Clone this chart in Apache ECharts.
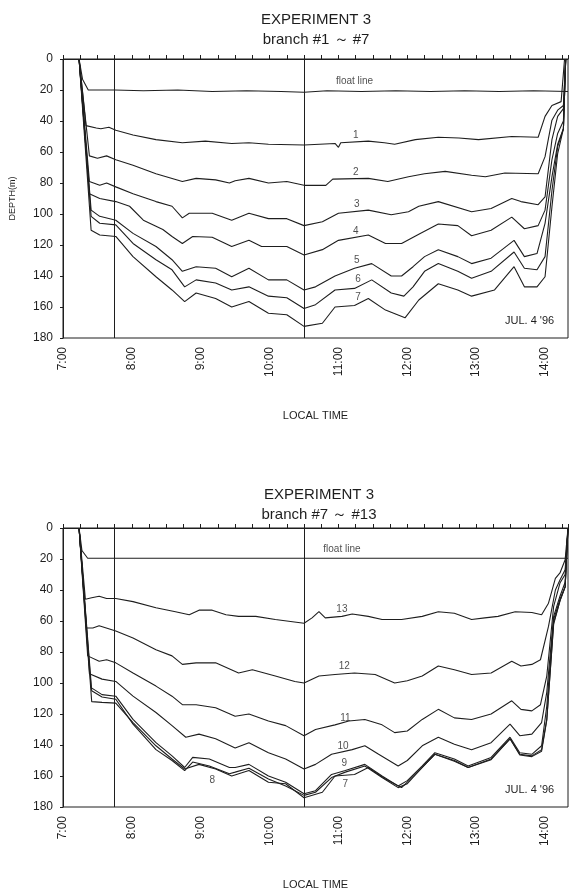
<!DOCTYPE html>
<html>
<head>
<meta charset="utf-8">
<script src="https://cdn.jsdelivr.net/npm/echarts@6/dist/echarts.min.js"></script>
<style>
  html, body { margin: 0; padding: 0; background: #fff; }
  #chart { width: 570px; height: 891px; }
</style>
</head>
<body>
<div id="chart"></div>
<script>
// time = minutes after 7:00, depth in metres
var hourLabels = ['7:00', '8:00', '9:00', '10:00', '11:00', '12:00', '13:00', '14:00'];
var refTimes = [45, 210];   // the two vertical lines (7:45, 10:30)

// ---- EXPERIMENT 3, branch #1 ~ #7 ----
var floatTop = [[14,0],[17,13],[22,20],[45,20],[70,20.5],[100,20],[130,21],[160,20.5],[190,21],[210,21.5],[230,20.5],[260,21],[290,20.5],[320,21],[350,20.5],[380,21],[410,20.5],[440,21]];
var br1 = [[14,0],[20,43],[29,44.5],[33,45],[40,44],[46,46],[61,49],[81,52],[104,54],[124,53],[147,54.5],[162,54],[179,55],[210,55.5],[237,54.5],[240,57],[242,54],[266,53],[280,54],[289,55],[307,52],[327,50.5],[345,51],[362,52],[391,50],[414,50.5],[420,37],[426,30],[434,27.5],[437,0]];
var br2 = [[14,0],[23,62.5],[30,64],[38,62.5],[46,65],[61,68.5],[81,74],[104,79],[116,77],[133,78],[145,80],[150,78.5],[162,77],[179,80],[195,79],[210,81.5],[229,81.5],[235,77.5],[266,77],[283,79],[301,76],[315,74],[333,72.5],[356,75],[368,76],[385,73.5],[414,74],[420,63],[426,39.5],[431,33],[436,30],[438,0]];
var br3 = [[14,0],[23,79],[32,81.5],[38,80],[46,82.5],[61,87],[81,92],[95,95],[104,102.5],[110,99.5],[130,99.5],[147,104],[162,99.5],[179,103],[195,103],[210,107.5],[226,105],[240,99.5],[266,97.5],[286,100.5],[301,98.5],[310,95],[327,92],[356,98.5],[373,96.5],[391,90],[399,92],[414,94],[420,89],[426,52],[431,37],[436,32],[438,0]];
var br4 = [[14,0],[23,87],[32,90],[46,92],[58,95],[70,104],[87,110],[95,114.5],[104,119],[113,114.5],[130,115],[147,121],[162,117],[173,121],[195,121],[210,126.5],[226,123],[240,117],[266,113.5],[281,119],[295,119],[310,113],[327,106.5],[344,107.5],[356,114],[373,110.5],[391,102],[402,109.5],[414,107.5],[420,97.5],[426,65],[431,48],[436,40],[438,0]];
var br5 = [[14,0],[24.5,97.5],[32,101.5],[46,104],[61,112.5],[81,121],[95,129.5],[104,137],[116,134],[133,135],[147,140.5],[162,135],[179,142.5],[195,142.5],[210,149],[220,147],[237,140],[254,135],[269,132],[286,140],[295,140],[305,134],[315,127.5],[327,123],[344,127.5],[356,132],[373,128.5],[393,117],[402,127.5],[413,125.5],[420,106],[426,76],[431,55],[436,45],[438,0]];
var br6 = [[14,0],[24.5,101.5],[32,106],[46,107],[61,119],[81,129.5],[95,136],[106,147],[116,142.5],[133,144.5],[147,149],[162,147],[179,153],[195,154],[210,161],[220,158.5],[237,149],[254,148],[269,142.5],[286,151],[297,153],[305,147],[315,137],[327,132],[344,137],[356,141.5],[373,137],[393,124.5],[402,135],[413,136],[420,127.5],[426,85],[431,56.5],[436,45],[438,0]];
var br7a = [[14,0],[24.5,110.5],[32,113.5],[46,114.5],[61,127.5],[81,140.5],[95,149],[106,156.5],[116,151],[133,154.5],[147,160],[162,156.5],[179,164],[195,165],[210,172.5],[226,170.5],[237,160],[254,159],[266,154.5],[281,162],[298,167],[310,155.5],[327,145],[344,149],[356,153],[376,149],[393,134],[402,147],[413,147],[420,140.5],[426,95.5],[431,61],[436,45],[438,0]];

// ---- EXPERIMENT 3, branch #7 ~ #13 ----
var floatBot = [[14,0],[16.5,14.5],[21.5,19.5],[60,19.5],[120,19.5],[180,19.5],[240,19.5],[300,19.5],[360,19.5],[440,19.5]];
var br13 = [[14,0],[19.5,46],[25,45],[31.5,44],[38,45.5],[46,45.5],[61,47.5],[81,51.5],[98,54],[110,56],[118.5,53],[130,53],[142,56],[153,57],[168,57],[185,59],[210,61.5],[217,58],[223,54],[228.5,58],[243,57],[252,55.5],[266,57],[278,59],[295,59],[313,57],[327,54],[341,55],[356,59],[367.5,58],[379,57],[394,54],[408.5,54.5],[417,56],[423,48.5],[429,32.5],[433,29],[437.5,20.5],[440,0]];
var br12 = [[14,0],[20.5,64.5],[26,64.5],[31.5,63],[46,66.5],[61,71],[81,78.5],[95,82.5],[104,88],[116,87],[133,87],[153,93.5],[165,91.5],[185,95.5],[202,99],[210,100],[223,95.5],[237,94.5],[254,93.5],[272,94.5],[289,100],[300,98.5],[313,95.5],[327,89],[341,91.5],[356,94.5],[373,93.5],[391,86],[399,89],[408.5,88],[416,85],[423,63.5],[429,40],[433,33.5],[437.5,27],[440,0]];
var br11 = [[14,0],[21.5,82.5],[31.5,86],[38,85],[46,87],[61,93.5],[81,102],[95,108.5],[104,114],[116,114],[133,116],[150,121.5],[162,120],[179,124.5],[194,127.5],[210,134],[220,130],[237,127],[249,124.5],[263,123.5],[278,127],[289,132],[300,131],[313,123.5],[327,117],[341,122.5],[356,123.5],[373,120],[391,111.5],[399,117],[408.5,118],[416,114],[421.5,95.5],[427.5,50.5],[433,35.5],[437.5,30],[440,0]];
var br10 = [[14,0],[23,94],[34,97.5],[46,99],[61,108.5],[81,119],[95,127.5],[107,135],[118.5,133],[133,136],[150,142],[162,138.5],[179,145],[194,149],[210,155.5],[220,152.5],[234,146],[252,143],[263,140.5],[275,146],[292,153.5],[300,150],[313,140.5],[327,135],[341,139.5],[356,143],[373,138.5],[389.5,126.5],[398,134],[408.5,133],[417,125.5],[421.5,106],[427.5,57],[433,44],[437.5,35],[440,0]];
var br9 = [[14,0],[24.5,103],[34,107.5],[46,108.5],[61,123.5],[81,138.5],[95,147],[106,154.5],[113,148],[127.5,149],[145,154.5],[150,154.5],[162,152.5],[179,160],[194,164],[210,171.5],[220,169.5],[234,159],[246,156.5],[263,152.5],[278,160],[292,166.5],[300,163],[313,153.5],[324,145],[341,149],[353,153.5],[373,148],[389.5,135],[398,145],[408.5,146],[417,140.5],[421.5,115],[427.5,59],[433,46],[437.5,38],[440,0]];
var br8 = [[14,0],[25,105],[34,109],[46,110.5],[61,126.5],[81,143],[95,150],[106,156.5],[113,151],[127.5,153.5],[145,158.5],[150,157.5],[162,155],[179,162],[194,166.5],[210,172.5],[220,170.5],[234,161],[246,157.5],[263,153.5],[278,161],[292,167.5],[300,165],[313,154.5],[324,146],[341,150],[353,154.5],[373,149],[389.5,136],[398,146],[408.5,147],[417,143],[421.5,123.5],[427.5,61],[433,47],[437.5,38],[440,0]];
var br7b = [[14,0],[25,112],[34,112.5],[46,113],[61,125.5],[81,140.5],[95,149],[106,155.5],[118.5,152.5],[133,155.5],[147,160],[162,156.5],[179,164],[194,165],[210,174],[226,170.5],[237,160],[254,159],[266,154.5],[281,162],[295,167.5],[300,164],[313,154.5],[324,146],[341,150.5],[353,154.5],[373,149.5],[389.5,136],[398,146.5],[408.5,147.5],[417,144],[421.5,124],[427.5,62],[433,47],[437.5,38],[440,0]];

var topSeries = [floatTop, br1, br2, br3, br4, br5, br6, br7a];
var botSeries = [floatBot, br13, br12, br11, br10, br9, br8, br7b];

// line labels: [text, minute, depth]
var topLabels = [['float line',254,14.5],['1',255,49],['2',255,73],['3',256,94],['4',255,111],['5',256,130],['6',257,142],['7',257,154]];
var botLabels = [['float line',243,13.5],['13',243,52.5],['12',245,89],['11',246,123],['10',244,141],['9',245,152],['7',246,165],['8',130,163]];

var ink = '#1e1e1e';
var font = 'Liberation Sans, Arial, sans-serif';

function xAxisOf(gi) {
  return {
    gridIndex: gi, type: 'value', min: 0, max: 440, interval: 15,
    name: 'LOCAL TIME', nameLocation: 'middle', nameGap: 72,
    nameTextStyle: { color: ink, fontSize: 11, fontFamily: font },
    axisLine: { lineStyle: { color: ink, width: 1 } },
    axisTick: { inside: true, length: 4, lineStyle: { color: ink } },
    splitLine: { show: false },
    axisLabel: {
      rotate: 90, margin: 9, fontSize: 12, color: ink, fontFamily: font,
      formatter: function (v) { return v % 60 === 0 ? hourLabels[v / 60] : ''; }
    }
  };
}
function yAxisOf(gi, name) {
  return {
    gridIndex: gi, type: 'value', inverse: true, min: 0, max: 180, interval: 20,
    name: name, nameLocation: 'middle', nameGap: 46, nameRotate: 90,
    nameTextStyle: { color: ink, fontSize: 9, fontFamily: font },
    axisLine: { lineStyle: { color: ink, width: 1 } },
    axisTick: { length: 3, lineStyle: { color: ink } },
    splitLine: { show: false },
    axisLabel: { margin: 10, fontSize: 12, color: ink, fontFamily: font }
  };
}

var series = [];
function addChart(list, labels, gi) {
  list.forEach(function (d, i) {
    var s = {
      type: 'line', xAxisIndex: gi, yAxisIndex: gi, data: d,
      symbol: 'none', silent: true, z: 3,
      lineStyle: { color: ink, width: 1.1 }
    };
    if (i === 0) {
      s.markLine = {
        symbol: 'none', silent: true, label: { show: false },
        lineStyle: { color: ink, width: 1, type: 'solid' },
        data: refTimes.map(function (t) { return { xAxis: t }; })
      };
    }
    series.push(s);
  });
  series.push({
    type: 'scatter', xAxisIndex: gi, yAxisIndex: gi, symbolSize: 0, silent: true, z: 5,
    data: labels.map(function (l) { return { name: l[0], value: [l[1], l[2]] }; }),
    label: {
      show: true, position: 'inside', formatter: '{b}', color: ink,
      fontSize: 10, fontFamily: font
    }
  });
}
addChart(topSeries, topLabels, 0);
addChart(botSeries, botLabels, 1);

var chart = echarts.init(document.getElementById('chart'), null, { renderer: 'canvas' });
chart.setOption({
  animation: false,
  backgroundColor: '#fff',
  title: [
    { text: 'EXPERIMENT 3\nbranch #1 ～ #7', left: 311, top: 5, textAlign: 'center',
      textStyle: { fontSize: 15, fontWeight: 'normal', color: ink, lineHeight: 20, fontFamily: font } },
    { text: 'EXPERIMENT 3\nbranch #7 ～ #13', left: 314, top: 480, textAlign: 'center',
      textStyle: { fontSize: 15, fontWeight: 'normal', color: ink, lineHeight: 20, fontFamily: font } }
  ],
  graphic: [
    { type: 'text', left: 505, top: 315, style: { text: "JUL. 4 '96", fontSize: 11, fill: ink, font: '11px ' + font } },
    { type: 'text', left: 505, top: 784, style: { text: "JUL. 4 '96", fontSize: 11, fill: ink, font: '11px ' + font } }
  ],
  grid: [
    { left: 63, top: 59, width: 505, height: 279, show: true, borderColor: ink, borderWidth: 1 },
    { left: 63, top: 528, width: 505, height: 280, show: true, borderColor: ink, borderWidth: 1 }
  ],
  xAxis: [xAxisOf(0), xAxisOf(1)],
  yAxis: [yAxisOf(0, 'DEPTH(m)'), yAxisOf(1, '')],
  series: series
});
</script>
</body>
</html>
